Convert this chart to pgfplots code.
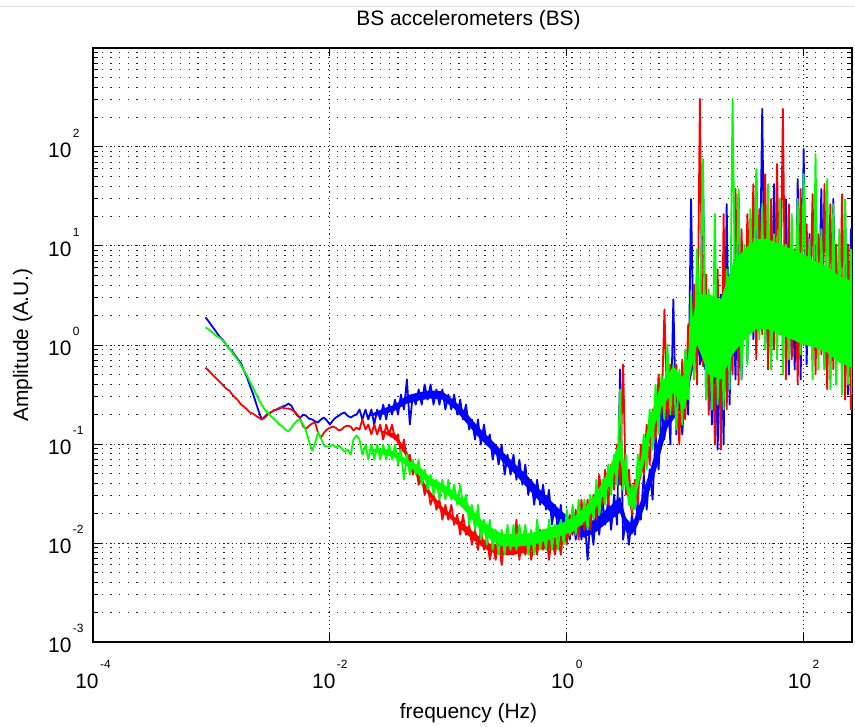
\documentclass[border=0pt]{standalone}
\usepackage{pgfplots}
\pgfplotsset{compat=1.18}
\usepackage{pgfplotstable}
\usepackage{fontspec}
\setmainfont{Liberation Sans}

% power of ten label, exponent set high as in the original
\newcommand{\ex}[1]{10\kern1.5bp\raisebox{20bp}{\fontsize{12}{12}\selectfont #1}}

% f = frequency (Hz), b/r/g = amplitude of the blue, red and green sensors
\pgfplotstableread{
f b r g
8.91e-4 1.90 0.592 1.51
9.44e-4 1.74 0.553 1.44
1.00e-3 1.58 0.516 1.37
1.06e-3 1.44 0.480 1.28
1.12e-3 1.31 0.449 1.22
1.19e-3 1.19 0.418 1.17
1.26e-3 1.11 0.390 1.09
1.33e-3 1.01 0.363 1.01
1.41e-3 0.920 0.348 0.920
1.50e-3 0.861 0.316 0.841
1.58e-3 0.785 0.295 0.766
1.68e-3 0.714 0.275 0.698
1.78e-3 0.650 0.250 0.620
1.88e-3 0.553 0.239 0.553
2.00e-3 0.469 0.223 0.491
2.11e-3 0.390 0.208 0.428
2.24e-3 0.324 0.203 0.372
2.37e-3 0.262 0.193 0.324
2.51e-3 0.213 0.185 0.281
2.66e-3 0.177 0.177 0.250
2.82e-3 0.189 0.185 0.223
2.99e-3 0.203 0.198 0.208
3.16e-3 0.208 0.208 0.193
3.35e-3 0.218 0.218 0.180
3.55e-3 0.223 0.223 0.169
3.76e-3 0.228 0.233 0.157
3.98e-3 0.239 0.233 0.150
4.22e-3 0.244 0.228 0.140
4.47e-3 0.256 0.228 0.134
4.73e-3 0.244 0.223 0.146
5.01e-3 0.213 0.213 0.161
5.31e-3 0.193 0.198 0.173
5.62e-3 0.185 0.180 0.177
5.96e-3 0.198 0.150 0.157
6.31e-3 0.193 0.143 0.134
6.68e-3 0.180 0.153 0.106
7.08e-3 0.177 0.161 0.0857
7.50e-3 0.169 0.165 0.103
7.94e-3 0.165 0.130 0.130
8.41e-3 0.177 0.116 0.114
8.91e-3 0.185 0.130 0.0965
9.44e-3 0.173 0.140 0.0943
1.00e-2 0.157 0.146 0.0943
1.06e-2 0.173 0.150 0.0988
1.12e-2 0.185 0.146 0.0921
1.19e-2 0.193 0.137 0.0965
1.26e-2 0.203 0.140 0.0900
1.33e-2 0.208 0.150 0.0837
1.41e-2 0.193 0.153 0.0877
1.50e-2 0.185 0.150 0.0781
1.58e-2 0.193 0.137 0.111
1.68e-2 0.198 0.146 0.122
1.78e-2 0.223 0.140 0.111
1.88e-2 0.177 0.177 0.0781
2.00e-2 0.223 0.140 0.0988
2.11e-2 0.177 0.157 0.0695
2.24e-2 0.223 0.125 0.0988
2.37e-2 0.157 0.157 0.0695
2.51e-2 0.223 0.125 0.0988
2.66e-2 0.177 0.157 0.0695
2.82e-2 0.250 0.111 0.0988
2.99e-2 0.177 0.157 0.0695
3.16e-2 0.250 0.125 0.0988
3.35e-2 0.198 0.157 0.0695
3.55e-2 0.281 0.111 0.0988
3.76e-2 0.198 0.125 0.0619
3.98e-2 0.316 0.0781 0.0877
4.22e-2 0.223 0.111 0.0436
4.47e-2 0.449 0.0695 0.0781
4.73e-2 0.157 0.0781 0.0490
5.01e-2 0.316 0.0490 0.0695
5.31e-2 0.250 0.0619 0.0490
5.62e-2 0.356 0.0388 0.0695
5.96e-2 0.250 0.0490 0.0388
6.31e-2 0.399 0.0307 0.0551
6.68e-2 0.281 0.0388 0.0345
7.08e-2 0.399 0.0243 0.0490
7.50e-2 0.250 0.0307 0.0307
7.94e-2 0.356 0.0217 0.0436
8.41e-2 0.250 0.0274 0.0274
8.91e-2 0.356 0.0172 0.0436
9.44e-2 0.223 0.0243 0.0274
1.00e-1 0.316 0.0172 0.0436
1.06e-1 0.223 0.0243 0.0274
1.12e-1 0.316 0.0153 0.0388
1.19e-1 0.198 0.0193 0.0243
1.26e-1 0.281 0.0121 0.0388
1.33e-1 0.177 0.0193 0.0243
1.41e-1 0.250 0.0121 0.0307
1.50e-1 0.140 0.0153 0.0153
1.58e-1 0.177 0.00960 0.0243
1.68e-1 0.111 0.0136 0.0136
1.78e-1 0.177 0.00853 0.0243
1.88e-1 0.0988 0.0136 0.0108
2.00e-1 0.157 0.00853 0.0172
2.11e-1 0.0988 0.0121 0.00960
2.24e-1 0.125 0.00676 0.0172
2.37e-1 0.0695 0.00960 0.00853
2.51e-1 0.0988 0.00676 0.0136
2.66e-1 0.0619 0.0108 0.00760
2.82e-1 0.0988 0.00601 0.0136
2.99e-1 0.0490 0.0108 0.00760
3.16e-1 0.0781 0.00760 0.0153
3.35e-1 0.0490 0.0121 0.00853
3.55e-1 0.0781 0.00760 0.0153
3.76e-1 0.0436 0.0172 0.00853
3.98e-1 0.0695 0.00676 0.0153
4.22e-1 0.0388 0.0121 0.00960
4.47e-1 0.0619 0.00760 0.0153
4.73e-1 0.0307 0.0108 0.00760
5.01e-1 0.0436 0.00676 0.0136
5.31e-1 0.0243 0.0108 0.00760
5.62e-1 0.0436 0.00760 0.0172
5.96e-1 0.0243 0.0136 0.00853
6.31e-1 0.0388 0.00853 0.0136
6.68e-1 0.0217 0.0136 0.00853
7.08e-1 0.0345 0.00676 0.0172
7.50e-1 0.0153 0.0121 0.00853
7.94e-1 0.0243 0.00760 0.0153
8.41e-1 0.0136 0.0121 0.00853
8.91e-1 0.0243 0.00760 0.0172
9.44e-1 0.0121 0.0153 0.00960
1.00 0.0193 0.00960 0.0217
1.06 0.0108 0.0193 0.0121
1.12 0.0217 0.0121 0.0243
1.19 0.0108 0.0217 0.0121
1.26 0.0193 0.0108 0.0274
1.33 0.0108 0.0274 0.0153
1.41 0.0193 0.0136 0.0274
1.50 0.00676 0.0274 0.0136
1.58 0.0172 0.0136 0.0307
1.68 0.00960 0.0307 0.0172
1.78 0.0243 0.0172 0.0436
1.88 0.0121 0.0490 0.0193
2.00 0.0274 0.0243 0.0436
2.11 0.0153 0.0551 0.0243
2.24 0.0274 0.0243 0.0619
2.37 0.0136 0.0619 0.0307
2.51 0.0307 0.0345 0.0781
2.66 0.0153 0.0988 0.0388
2.82 0.566 0.0388 0.356
2.99 0.0108 0.635 0.0345
3.16 0.0172 0.0307 0.0781
3.35 0.00960 0.0551 0.0243
3.55 0.0193 0.0193 0.0388
3.76 0.0121 0.0436 0.0217
3.98 0.0274 0.0243 0.0781
4.22 0.0172 0.0988 0.0490
4.47 0.0490 0.0490 0.125
4.73 0.0217 0.157 0.0551
5.01 0.0551 0.0619 0.223
5.31 0.0274 0.223 0.0877
5.62 0.125 0.111 0.399
5.96 0.0551 0.503 0.125
6.31 0.250 0.198 0.503
6.68 0.111 2.29 0.177
7.08 0.399 0.177 1.01
7.50 0.0988 0.635 0.198
7.94 2.90 0.198 0.635
8.41 0.125 0.635 0.140
8.91 0.503 0.0988 0.566
9.44 0.125 0.714 0.157
10.0 0.399 0.177 0.902
10.6 0.198 1.62 0.281
11.2 29.8 0.566 3.25
11.9 0.449 4.10 0.449
12.6 5.82 0.399 9.29
13.3 0.635 306 1.14
14.1 67.3 0.635 75.7
15.0 0.281 5.18 0.281
15.8 1.62 0.198 3.66
16.8 0.157 2.58 0.223
17.8 2.58 0.0988 21.0
18.8 0.0877 5.82 0.250
20.0 3.25 0.0877 2.90
21.1 0.0988 21.0 0.223
22.4 26.5 0.223 5.82
23.7 0.250 3.66 0.356
25.1 5.18 0.503 306
26.6 0.449 37.6 1.44
28.2 33.4 0.399 37.6
29.9 0.449 14.8 0.449
31.6 5.18 1.14 10.4
33.5 0.714 21.0 0.635
35.5 18.7 2.04 23.6
37.6 1.14 42.2 1.62
39.8 53.3 0.714 60.0
42.2 1.62 23.6 1.14
44.7 243 1.28 26.5
47.3 0.902 53.3 0.902
50.1 7.35 0.566 42.2
53.1 0.714 29.8 0.566
56.2 42.2 0.902 13.2
59.6 1.14 67.3 0.714
63.1 18.7 1.28 29.8
66.8 1.62 243 0.503
70.8 29.8 0.449 10.4
75.0 0.503 26.5 0.714
79.4 7.35 0.714 21.0
84.1 0.566 9.29 1.14
89.1 47.5 0.399 29.8
94.4 0.449 37.6 0.803
100 95.5 1.01 53.3
106 0.635 16.6 1.62
112 13.2 1.62 11.7
119 0.902 33.4 0.449
126 10.4 0.503 85.0
133 1.01 13.2 0.566
141 37.6 0.803 14.8
150 0.566 42.2 0.566
158 4.10 0.356 47.5
168 0.449 26.5 0.356
178 29.8 0.566 26.5
188 0.635 10.4 0.399
200 8.27 0.714 14.8
211 0.803 33.4 0.316
224 21.0 0.281 29.8
237 0.316 10.4 0.399
251 14.8 0.223 9.29
256 0.449 3.66 0.316
}\spectra

\begin{document}
\begin{tikzpicture}
\begin{axis}[
    scale only axis,
    width=759bp, height=594bp,
    xmode=log, ymode=log,
    xmin=1e-4, xmax=256,
    ymin=1e-3, ymax=1e3,
    xtick={1e-4,1e-2,1,1e2},
    xticklabels={\ex{-4},\ex{-2},\ex{0},\ex{2}},
    ytick={1e-3,1e-2,1e-1,1,1e1,1e2,1e3},
    yticklabels={\ex{-3},\ex{-2},\ex{-1},\ex{0},\ex{1},\ex{2},{}},
    xminorticks=false,
    xtick pos=both, ytick pos=both,
    tick align=inside,
    major tick length=8bp, minor tick length=5bp,
    every tick/.style={black, line width=1bp},
    xmajorgrids, ymajorgrids, yminorgrids,
    major grid style={black!85, line width=1bp, dash pattern=on 1.2bp off 3bp},
    minor grid style={black!85, line width=1bp, dash pattern=on 1.2bp off 7.5bp},
    axis line style={black, line width=1.4bp},
    tick label style={font=\fontsize{21}{21}\selectfont, inner sep=0pt},
    xticklabel style={anchor=north, yshift=-18bp},
    yticklabel style={anchor=west, xshift=-45bp, yshift=4bp},
    title={BS accelerometers (BS)},
    title style={at={(axis description cs:0.5,1)}, anchor=base, yshift=17bp, xshift=-4bp, font=\fontsize{21}{21}\selectfont},
    xlabel={frequency (Hz)},
    xlabel style={at={(axis description cs:0.5,0)}, anchor=base, yshift=-76bp, xshift=-4bp, font=\fontsize{21}{21}\selectfont},
    ylabel={Amplitude (A.U.)},
    ylabel style={at={(axis description cs:-0.0856,0.5)}, anchor=base, rotate=0, font=\fontsize{21}{21}\selectfont},
]
% blue sensor: dense core of the noise band, then the trace
\addplot[fill=blue, draw=none] coordinates {
(2.00e-2,0.189) (2.82e-2,0.228) (3.55e-2,0.250) (4.47e-2,0.309) (5.62e-2,0.332) (7.08e-2,0.348)
(8.91e-2,0.340) (1.12e-1,0.275) (1.41e-1,0.208) (1.78e-1,0.150) (2.24e-1,0.114) (2.82e-1,0.0857)
(3.55e-1,0.0648) (4.47e-1,0.0502) (5.62e-1,0.0370) (7.08e-1,0.0280) (8.91e-1,0.0212) (1.12,0.0172)
(1.41,0.0149) (1.78,0.0180) (2.24,0.0226) (2.82,0.0293) (3.16,0.0180) (3.55,0.0153) (3.98,0.0212)
(4.47,0.0337) (5.62,0.0837) (7.08,0.268) (8.91,0.372) (10.0,0.428) (11.2,1.09) (12.6,2.46)
(15.8,1.44) (20.0,1.14) (25.1,3.91) (31.6,5.55) (39.8,7.01) (50.1,7.01) (63.1,6.24) (79.4,5.55)
(100,4.94) (126,4.30) (158,3.91) (200,3.03) (256,2.77)
(256,0.766) (200,0.861) (158,1.09) (126,1.22) (100,1.34) (79.4,1.51) (63.1,1.74) (50.1,1.90)
(39.8,1.90) (31.6,1.51) (25.1,1.06) (20.0,0.356) (15.8,0.449) (12.6,0.861) (11.2,0.469) (10.0,0.233)
(8.91,0.213) (7.08,0.146) (5.62,0.0526) (4.47,0.0221) (3.98,0.0153) (3.55,0.0121) (3.16,0.0130)
(2.82,0.0202) (2.24,0.0164) (1.78,0.0130) (1.41,0.0113) (1.12,0.0130) (8.91e-1,0.0160)
(7.08e-1,0.0212) (5.62e-1,0.0280) (4.47e-1,0.0379) (3.55e-1,0.0514) (2.82e-1,0.0679) (2.24e-1,0.0900)
(1.78e-1,0.119) (1.41e-1,0.165) (1.12e-1,0.228) (8.91e-2,0.281) (7.08e-2,0.288) (5.62e-2,0.275)
(4.47e-2,0.256) (3.55e-2,0.218) (2.82e-2,0.198)
} -- cycle;
\addplot[blue, line width=1.8bp, line join=round] table[x=f, y=b] {\spectra};
% red sensor
\addplot[fill=red, draw=none] coordinates {
(2.51e-2,0.140) (3.55e-2,0.128) (4.47e-2,0.0837) (5.62e-2,0.0490) (7.08e-2,0.0329) (8.91e-2,0.0232)
(1.12e-1,0.0184) (1.41e-1,0.0149) (1.78e-1,0.0118) (2.24e-1,0.00984) (2.82e-1,0.00960) (3.55e-1,0.00960)
(4.47e-1,0.0101) (5.62e-1,0.0108) (7.08e-1,0.0110) (8.91e-1,0.0121) (1.12,0.0164) (1.41,0.0207)
(1.78,0.0300) (2.24,0.0479) (2.82,0.101) (3.16,0.0490) (3.55,0.0268) (3.98,0.0490) (5.01,0.165)
(6.31,0.390) (7.94,0.566) (10.0,0.418) (11.2,1.34) (12.6,2.90) (15.8,2.24) (20.0,1.99) (25.1,4.30)
(31.6,6.24) (39.8,7.71) (50.1,7.71) (63.1,6.85) (79.4,6.24) (100,5.55) (126,4.72) (158,4.20)
(200,3.33) (256,2.96)
(256,0.766) (200,0.861) (158,1.09) (126,1.22) (100,1.34) (79.4,1.51) (63.1,1.74) (50.1,1.90)
(39.8,1.90) (31.6,1.51) (25.1,1.06) (20.0,0.566) (15.8,0.635) (12.6,0.987) (11.2,0.527) (10.0,0.208)
(7.94,0.309) (6.31,0.223) (5.01,0.103) (3.98,0.0337) (3.55,0.0193) (3.16,0.0337) (2.82,0.0663)
(2.24,0.0345) (1.78,0.0217) (1.41,0.0157) (1.12,0.0124) (8.91e-1,0.00960) (7.08e-1,0.00875)
(5.62e-1,0.00853) (4.47e-1,0.00795) (3.55e-1,0.00760) (2.82e-1,0.00760) (2.24e-1,0.00814)
(1.78e-1,0.00984) (1.41e-1,0.0124) (1.12e-1,0.0164) (8.91e-2,0.0202) (7.08e-2,0.0286) (5.62e-2,0.0426)
(4.47e-2,0.0728) (3.55e-2,0.111)
} -- cycle;
\addplot[red, line width=1.8bp, line join=round] table[x=f, y=r] {\spectra};
% green sensor
\addplot[fill=green, draw=none] coordinates {
(2.00e-2,0.0877) (2.82e-2,0.0900) (3.55e-2,0.0837) (4.47e-2,0.0695) (5.62e-2,0.0605) (7.08e-2,0.0457)
(8.91e-2,0.0397) (1.12e-1,0.0329) (1.41e-1,0.0262) (1.78e-1,0.0184) (2.24e-1,0.0146) (2.82e-1,0.0124)
(3.55e-1,0.0121) (4.47e-1,0.0124) (5.62e-1,0.0130) (7.08e-1,0.0143) (8.91e-1,0.0157) (1.12,0.0180)
(1.41,0.0226) (1.78,0.0322) (2.24,0.0526) (2.82,0.111) (3.16,0.0526) (3.55,0.0286) (3.98,0.0526)
(5.01,0.177) (6.31,0.418) (7.94,0.606) (10.0,0.449) (11.2,1.44) (12.6,3.25) (15.8,3.25) (20.0,2.90)
(25.1,6.54) (31.6,9.29) (39.8,11.7) (50.1,11.7) (63.1,10.4) (79.4,9.29) (100,8.27) (126,7.01)
(158,6.24) (200,4.94) (256,4.40)
(256,0.592) (200,0.665) (158,0.841) (126,0.941) (100,1.01) (79.4,1.14) (63.1,1.28) (50.1,1.44)
(39.8,1.44) (31.6,1.14) (25.1,0.803) (20.0,0.449) (15.8,0.503) (12.6,1.01) (11.2,0.566) (10.0,0.223)
(7.94,0.332) (6.31,0.239) (5.01,0.111) (3.98,0.0362) (3.55,0.0207) (3.16,0.0362) (2.82,0.0695)
(2.24,0.0362) (1.78,0.0232) (1.41,0.0164) (1.12,0.0130) (8.91e-1,0.0118) (7.08e-1,0.0108)
(5.62e-1,0.00984) (4.47e-1,0.00938) (3.55e-1,0.00916) (2.82e-1,0.00938) (2.24e-1,0.0110)
(1.78e-1,0.0146) (1.41e-1,0.0207) (1.12e-1,0.0274) (8.91e-2,0.0329) (7.08e-2,0.0379) (5.62e-2,0.0502)
(4.47e-2,0.0605) (3.55e-2,0.0728) (2.82e-2,0.0781)
} -- cycle;
\addplot[green, line width=1.8bp, line join=round] table[x=f, y=g] {\spectra};
\end{axis}
\draw[black!10, line width=1bp] (-93bp,635bp) -- (762bp,635bp);
\pgfresetboundingbox
\path[use as bounding box] (-93bp,-85bp) rectangle (762bp,642bp);
\end{tikzpicture}
\end{document}
